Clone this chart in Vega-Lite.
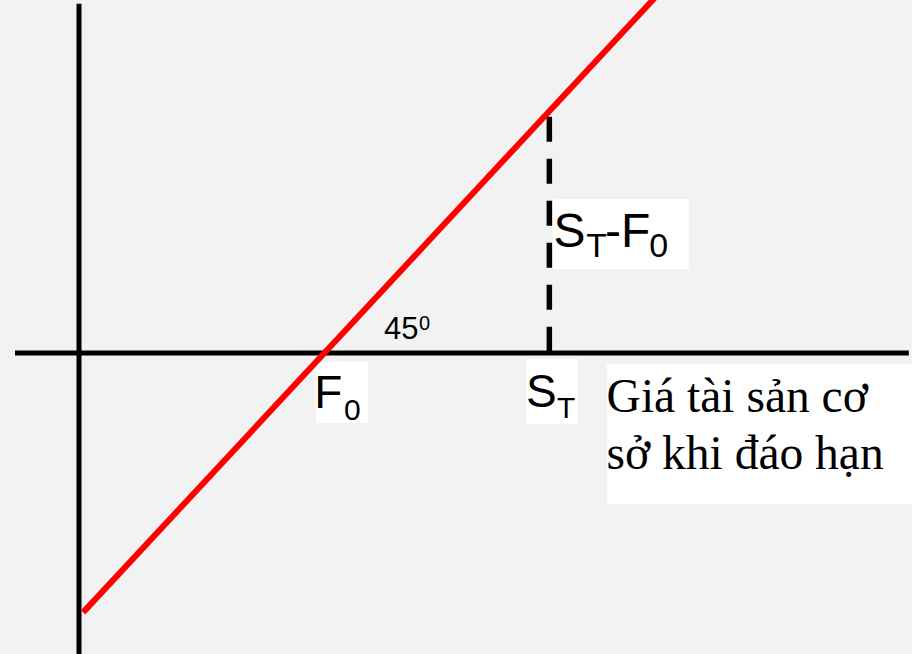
{
  "$schema": "https://vega.github.io/schema/vega-lite/v6.json",
  "width": 912,
  "height": 654,
  "autosize": {"type": "fit", "contains": "padding"},
  "padding": 0,
  "background": "#f2f2f2",
  "config": {"view": {"stroke": null}},
  "datasets": {
    "axes": [
      {"axis": "price", "x": -15.65, "x2": 202.9, "y": 0, "y2": 0},
      {"axis": "payoff", "x": 0, "x2": 0, "y": 79.4, "y2": -70}
    ],
    "payoff": [
      {"price": 1, "payoff": -59},
      {"price": 142, "payoff": 82}
    ],
    "spot": [
      {"price": 115, "top": 53.7, "bottom": 0}
    ],
    "boxes": [
      {"label": "F0", "x": 57.9, "x2": 70.7, "y": -2.05, "y2": -15.9},
      {"label": "ST", "x": 109.3, "x2": 122.0, "y": -1.36, "y2": -16.1},
      {"label": "ST-F0", "x": 115.9, "x2": 149.1, "y": 35.0, "y2": 19.1},
      {"label": "axis title", "x": 129.1, "x2": 210, "y": -2.5, "y2": -34.3}
    ],
    "labels": [
      {"text": "F", "x": 57.5, "y": -12.5, "kind": "main"},
      {"text": "0", "x": 64.8, "y": -15.2, "kind": "sub"},
      {"text": "S", "x": 109.3, "y": -12.3, "kind": "main"},
      {"text": "T", "x": 116.9, "y": -14.8, "kind": "sub"},
      {"text": "S", "x": 116.0, "y": 24.1, "kind": "big"},
      {"text": "T", "x": 124.0, "y": 21.8, "kind": "bigsub"},
      {"text": "-F", "x": 128.6, "y": 24.1, "kind": "big"},
      {"text": "0", "x": 139.4, "y": 21.8, "kind": "bigsub"},
      {"text": "45", "x": 74.6, "y": 3.2, "kind": "angle"},
      {"text": "0", "x": 83.1, "y": 5.2, "kind": "anglesup"},
      {"text": "Giá tài sản cơ", "x": 129.0, "y": -13.4, "kind": "title"},
      {"text": "sở khi đáo hạn", "x": 129.0, "y": -26.4, "kind": "title"}
    ]
  },
  "resolve": {"scale": {"x": "shared", "y": "shared"}},
  "layer": [
    {
      "data": {"name": "boxes"},
      "mark": {"type": "rect", "fill": "white", "clip": true},
      "encoding": {
        "x": {"field": "x", "type": "quantitative", "scale": {"domain": [-19.32, 203.67], "nice": false, "zero": false}, "axis": null},
        "x2": {"field": "x2"},
        "y": {"field": "y", "type": "quantitative", "scale": {"domain": [-68.46, 80.28], "nice": false, "zero": false}, "axis": null},
        "y2": {"field": "y2"}
      }
    },
    {
      "data": {"name": "axes"},
      "mark": {"type": "rule", "stroke": "black", "strokeWidth": 5, "strokeCap": "butt", "clip": true},
      "encoding": {
        "x": {"field": "x", "type": "quantitative"},
        "x2": {"field": "x2"},
        "y": {"field": "y", "type": "quantitative"},
        "y2": {"field": "y2"}
      }
    },
    {
      "data": {"name": "spot"},
      "mark": {"type": "rule", "stroke": "black", "strokeWidth": 5.5, "strokeDash": [25, 17], "strokeCap": "butt"},
      "encoding": {
        "x": {"field": "price", "type": "quantitative"},
        "y": {"field": "top", "type": "quantitative"},
        "y2": {"field": "bottom"}
      }
    },
    {
      "data": {"name": "payoff"},
      "mark": {"type": "line", "stroke": "#ff0000", "strokeWidth": 6, "strokeCap": "butt", "clip": true},
      "encoding": {
        "x": {"field": "price", "type": "quantitative"},
        "y": {"field": "payoff", "type": "quantitative"}
      }
    },
    {
      "data": {"name": "labels"},
      "transform": [{"filter": "datum.kind === 'main'"}],
      "mark": {"type": "text", "font": "Liberation Sans", "fontSize": 46, "align": "left", "baseline": "alphabetic", "color": "black"},
      "encoding": {
        "x": {"field": "x", "type": "quantitative"},
        "y": {"field": "y", "type": "quantitative"},
        "text": {"field": "text"}
      }
    },
    {
      "data": {"name": "labels"},
      "transform": [{"filter": "datum.kind === 'sub'"}],
      "mark": {"type": "text", "font": "Liberation Sans", "fontSize": 30, "align": "left", "baseline": "alphabetic", "color": "black"},
      "encoding": {
        "x": {"field": "x", "type": "quantitative"},
        "y": {"field": "y", "type": "quantitative"},
        "text": {"field": "text"}
      }
    },
    {
      "data": {"name": "labels"},
      "transform": [{"filter": "datum.kind === 'big'"}],
      "mark": {"type": "text", "font": "Liberation Sans", "fontSize": 48, "align": "left", "baseline": "alphabetic", "color": "black"},
      "encoding": {
        "x": {"field": "x", "type": "quantitative"},
        "y": {"field": "y", "type": "quantitative"},
        "text": {"field": "text"}
      }
    },
    {
      "data": {"name": "labels"},
      "transform": [{"filter": "datum.kind === 'bigsub'"}],
      "mark": {"type": "text", "font": "Liberation Sans", "fontSize": 34, "align": "left", "baseline": "alphabetic", "color": "black"},
      "encoding": {
        "x": {"field": "x", "type": "quantitative"},
        "y": {"field": "y", "type": "quantitative"},
        "text": {"field": "text"}
      }
    },
    {
      "data": {"name": "labels"},
      "transform": [{"filter": "datum.kind === 'angle'"}],
      "mark": {"type": "text", "font": "Liberation Sans", "fontSize": 31, "align": "left", "baseline": "alphabetic", "color": "black"},
      "encoding": {
        "x": {"field": "x", "type": "quantitative"},
        "y": {"field": "y", "type": "quantitative"},
        "text": {"field": "text"}
      }
    },
    {
      "data": {"name": "labels"},
      "transform": [{"filter": "datum.kind === 'anglesup'"}],
      "mark": {"type": "text", "font": "Liberation Sans", "fontSize": 20, "align": "left", "baseline": "alphabetic", "color": "black"},
      "encoding": {
        "x": {"field": "x", "type": "quantitative"},
        "y": {"field": "y", "type": "quantitative"},
        "text": {"field": "text"}
      }
    },
    {
      "data": {"name": "labels"},
      "transform": [{"filter": "datum.kind === 'title'"}],
      "mark": {"type": "text", "font": "Liberation Serif", "fontSize": 47.5, "align": "left", "baseline": "alphabetic", "color": "black"},
      "encoding": {
        "x": {"field": "x", "type": "quantitative"},
        "y": {"field": "y", "type": "quantitative"},
        "text": {"field": "text"}
      }
    }
  ]
}
